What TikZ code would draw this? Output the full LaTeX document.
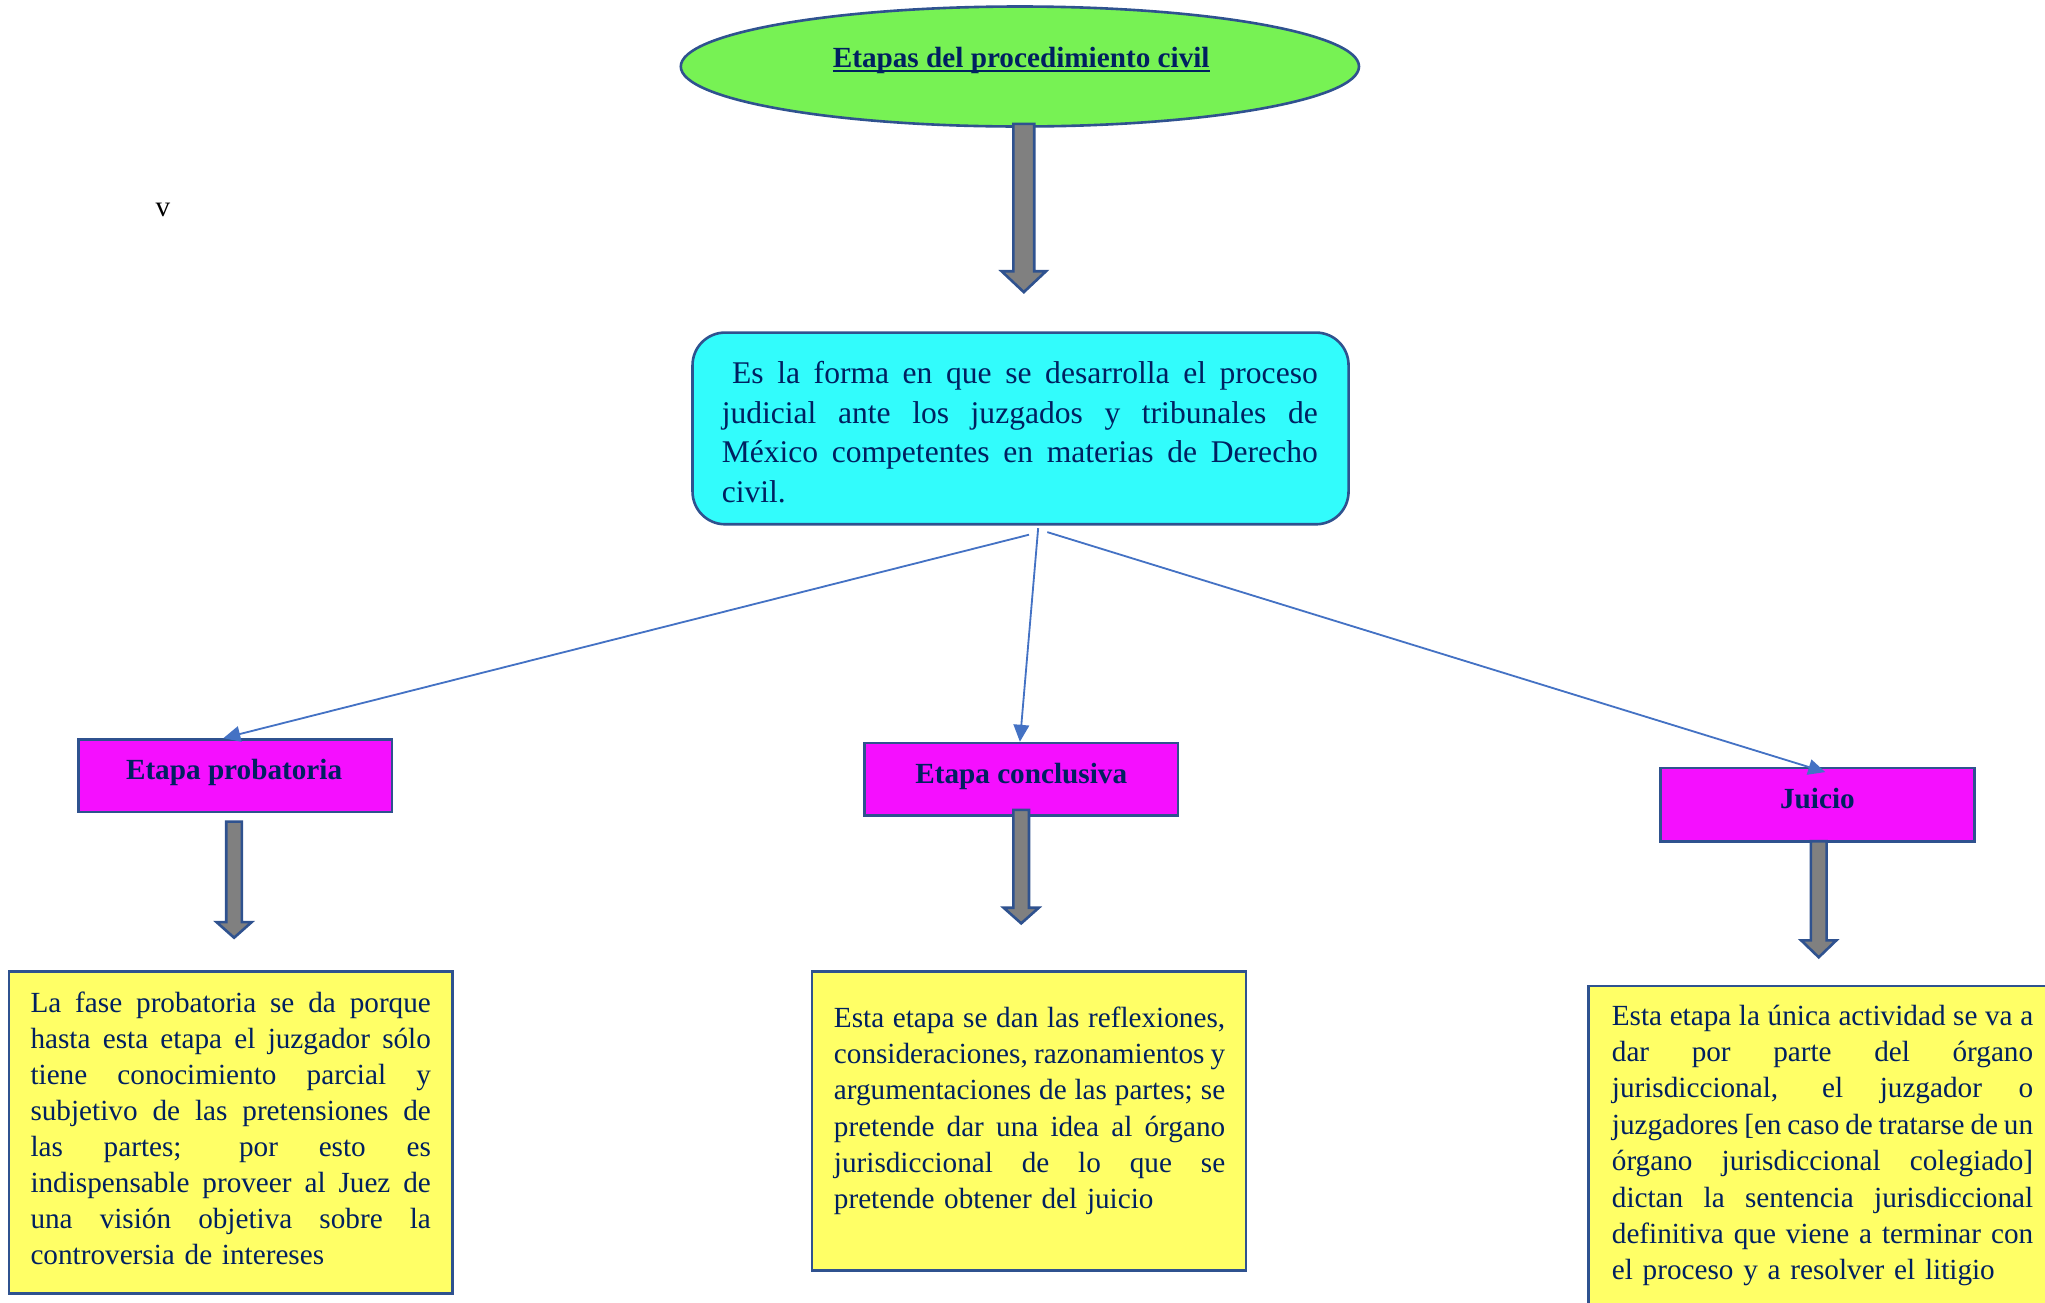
\documentclass[tikz,border=0pt]{standalone}
\usepackage{fontspec}
\setmainfont{Liberation Serif}
\usetikzlibrary{shapes.geometric,arrows.meta}
\definecolor{ellgreen}{RGB}{119,242,84}
\definecolor{edgeblue}{RGB}{47,82,143}
\definecolor{cyanfill}{RGB}{50,252,252}
\definecolor{magfill}{RGB}{245,15,255}
\definecolor{yelfill}{RGB}{255,255,102}
\definecolor{arrgray}{RGB}{128,128,128}
\definecolor{connblue}{RGB}{68,114,196}
\definecolor{navytext}{RGB}{0,32,96}
\newcommand\ulbar[1]{\setbox0\hbox{#1}\rlap{\rule[-1.7pt]{\wd0}{0.9pt}}\box0}
\newcommand\jl[2]{\leavevmode\hbox to #1{\spaceskip=0.25em plus 1fil minus 0.1em\xspaceskip=\spaceskip #2}\\}
\newcommand\blockarr[6]{%
  \draw[barrow] (#1-#5,#2) -- (#1+#5,#2) -- (#1+#5,#3) -- (#1+#6,#3) -- (#1,#4) -- (#1-#6,#3) -- (#1-#5,#3) -- cycle;}
\begin{document}
\begin{tikzpicture}[x=0.5pt,y=-0.5pt,
  ellbox/.style={ellipse,draw=edgeblue,line width=1pt,fill=ellgreen,inner sep=0pt,minimum width=260pt,minimum height=46pt},
  cyanbox/.style={rectangle,rounded corners=12.5pt,draw=edgeblue,line width=1pt,fill=cyanfill,inner sep=0pt,minimum width=251.5pt,minimum height=73.5pt},
  magbox/.style={rectangle,draw=edgeblue,line width=1pt,fill=magfill,inner sep=0pt,minimum width=120.25pt,minimum height=27.75pt},
  yelbox/.style={rectangle,draw=edgeblue,line width=1pt,fill=yelfill,inner sep=0pt},
  barrow/.style={draw=edgeblue,line width=1pt,fill=arrgray,line join=miter},
  conn/.style={draw=connblue,line width=0.7pt,-{Triangle[length=6.5pt,width=6pt]}},
  headtxt/.style={inner sep=0pt,anchor=base,text=navytext,font=\fontsize{11.2}{13.85}\selectfont\bfseries},
  bodytxt/.style={inner sep=0pt,anchor=base west,text=navytext,align=left,font=\fontsize{11.2}{13.85}\selectfont},
]
\useasboundingbox (0,0) rectangle (1568,999);
\clip (0,0) rectangle (1568,999);

% title
\node[ellbox] (title) at (782,51) {};
\node[headtxt] (titletxt) at (783,52) {\ulbar{Etapas del procedimiento civil}};
\blockarr{785}{95}{208}{224}{8}{17}

% stray letter
\node[inner sep=0pt,anchor=base,font=\fontsize{11.2}{13.85}\selectfont] (vmark) at (125,166) {v};

% definition box
\node[cyanbox] (defbox) at (782.5,328.5) {};
\node[bodytxt,text width=228.5pt,font=\fontsize{12.1}{15.2}\selectfont] (deftxt) at (553,294) {%
\jl{228.5pt}{\hspace*{4pt}Es la forma en que se desarrolla el proceso}%
\jl{228.5pt}{judicial ante los juzgados y tribunales de}%
\jl{228.5pt}{México competentes en materias de Derecho}%
civil.};

% stage boxes
\node[magbox] (prob) at (180.25,594.75) {};
\node[headtxt] (probtxt) at (179.5,598) {Etapa probatoria};
\node[magbox] (concl) at (783,597.5) {};
\node[headtxt] (concltxt) at (783,601) {Etapa conclusiva};
\node[magbox,minimum height=28pt] (juicio) at (1393.5,617) {};
\node[headtxt] (juiciotxt) at (1393.5,620) {Juicio};

% connectors
\draw[conn] ([xshift=3.25pt,yshift=-3.5pt]defbox.south) -- ([xshift=-4.5pt]prob.north);
\draw[conn] ([xshift=6.75pt,yshift=-1pt]defbox.south) -- ([xshift=-0.5pt]concl.north);
\draw[conn] ([xshift=10.25pt,yshift=-2.5pt]defbox.south) -- ([xshift=3pt,yshift=-2pt]juicio.north);

% block arrows under stages
\blockarr{179.5}{630}{707}{719}{6}{13.5}
\blockarr{783}{621}{696}{708}{6}{13.5}
\blockarr{1394.5}{645}{721}{734}{6}{13.5}

% description boxes
\node[yelbox,minimum width=170pt,minimum height=123.5pt] (probdesc) at (177,868.5) {};
\node[bodytxt,text width=153.5pt] (probdesctxt) at (23,776) {%
\jl{153.5pt}{La fase probatoria se da porque}%
\jl{153.5pt}{hasta esta etapa el juzgador sólo}%
\jl{153.5pt}{tiene conocimiento parcial y}%
\jl{153.5pt}{subjetivo de las pretensiones de}%
\jl{153.5pt}{las partes; por esto es}%
\jl{153.5pt}{indispensable proveer al Juez de}%
\jl{153.5pt}{una visión objetiva sobre la}%
controversia de intereses};

\node[yelbox,minimum width=166.5pt,minimum height=114.5pt] (concldesc) at (789,859.5) {};
\node[bodytxt,text width=150pt] (concldesctxt) at (639,788) {%
\jl{150pt}{Esta etapa se dan las reflexiones,}%
\jl{150pt}{consideraciones, razonamientos y}%
\jl{150pt}{argumentaciones de las partes; se}%
\jl{150pt}{pretende dar una idea al órgano}%
\jl{150pt}{jurisdiccional de lo que se}%
pretende obtener del juicio};

\node[yelbox,minimum width=186pt,minimum height=127pt] (juiciodesc) at (1404,883) {};
\node[bodytxt,text width=161.5pt,font=\fontsize{11.2}{13.95}\selectfont] (juiciodesctxt) at (1235.5,786) {%
\jl{161.5pt}{Esta etapa la única actividad se va a}%
\jl{161.5pt}{dar por parte del órgano}%
\jl{161.5pt}{jurisdiccional, el juzgador o}%
\jl{161.5pt}{juzgadores [en caso de tratarse de un}%
\jl{161.5pt}{órgano jurisdiccional colegiado]}%
\jl{161.5pt}{dictan la sentencia jurisdiccional}%
\jl{161.5pt}{definitiva que viene a terminar con}%
el proceso y a resolver el litigio};
\end{tikzpicture}
\end{document}
